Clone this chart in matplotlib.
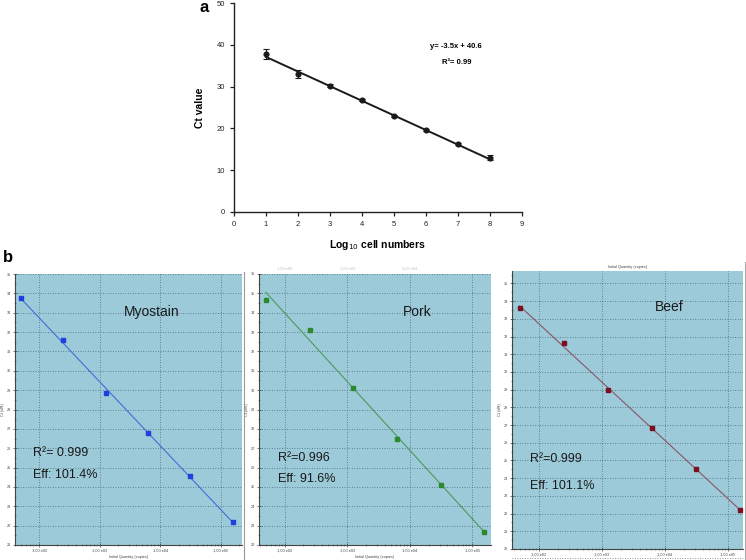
import numpy as np
import matplotlib
matplotlib.use("Agg")
from matplotlib import pyplot as plt
from matplotlib.ticker import LogLocator, FixedLocator, NullFormatter, MultipleLocator

plt.rcParams['font.family'] = ['Liberation Sans', 'DejaVu Sans']

# panel a data
log_cells = [1, 2, 3, 4, 5, 6, 7, 8]
ct_mean = [37.8, 33.0, 30.2, 26.8, 23.0, 19.7, 16.2, 13.0]
ct_err = [1.2, 0.9, 0.4, 0.25, 0.3, 0.25, 0.25, 0.6]
fit_slope = -3.5
fit_intercept = 40.6

# panel b data (5-fold dilution series)
quantity = [50, 250, 1250, 6250, 31250, 156250]
ct_myostain = [33.75, 31.58, 28.85, 26.78, 24.58, 22.2]
ct_pork = [34.68, 33.12, 30.12, 27.47, 25.09, 22.69]
ct_beef = [33.63, 31.65, 28.97, 26.82, 24.51, 22.22]

names = ["Myostain", "Pork", "Beef"]
r2_text = ["R\u00b2= 0.999", "R\u00b2=0.996", "R\u00b2=0.999"]
eff_text = ["Eff: 101.4%", "Eff: 91.6%", "Eff: 101.1%"]
qty_ticks = [1e2, 1e3, 1e4, 1e5]
qty_labels = ["1,00 e02", "1,00 e03", "1,00 e04", "1,00 e05"]

W, H = 746, 560
fig = plt.figure(figsize=(W / 100, H / 100), dpi=100)

def box(l, t, r, b):
    return [l / W, 1 - b / H, (r - l) / W, (b - t) / H]

# ---- panel a ----
ax = fig.add_axes(box(234, 3, 522, 212))
ax.errorbar(log_cells, ct_mean, yerr=ct_err, fmt='o', color='#1a1a1a', ms=3.4,
            elinewidth=0.8, capsize=2.2, capthick=0.8, zorder=3)
xl = np.array([log_cells[0], log_cells[-1]])
ax.plot(xl, fit_slope * xl + fit_intercept, color='#1a1a1a', lw=1.4)
ax.set_xlim(0, 9)
ax.set_ylim(0, 50)
ax.set_xticks(range(0, 10))
ax.set_yticks(range(0, 60, 10))
for s in ['top', 'right']:
    ax.spines[s].set_visible(False)
for s in ['left', 'bottom']:
    ax.spines[s].set_linewidth(1.0)
    ax.spines[s].set_color('#222222')
ax.tick_params(direction='out', length=3, width=0.9, labelsize=5.5, colors='#222222', pad=3.5)
ax.set_ylabel("Ct value", fontsize=7.5, fontweight='bold', labelpad=8)
ax.set_xlabel("Log$_{10}$ cell numbers", fontsize=7.5, fontweight='bold', labelpad=7)
ax.text(0.772, 0.785, "y= -3.5x + 40.6", transform=ax.transAxes, fontsize=5.5,
        fontweight='bold', ha='center')
ax.text(0.772, 0.71, "R\u00b2= 0.99", transform=ax.transAxes, fontsize=5.5,
        fontweight='bold', ha='center')
fig.text(199 / W, 1 - 8 / H, "a", fontsize=12, fontweight='bold', va='center')
fig.text(3 / W, 1 - 258 / H, "b", fontsize=12, fontweight='bold', va='center')

# ---- panel b ----
series = [ct_myostain, ct_pork, ct_beef]
boxes = [(15, 274, 242, 545), (259, 274, 491, 545), (512, 271, 743, 549)]
xlims = [(10 ** 1.60, 10 ** 5.35), (10 ** 1.59, 10 ** 5.30), (10 ** 1.578, 10 ** 5.24)]
ylims = [(21, 35), (22, 36), (20, 35.7)]
pt_colors = ['#1f3fe0', '#2b8a2b', '#7a0f22']
ln_colors = ['#3f6fd8', '#4c9a5c', '#8a5566']
name_pos = [(0.6, 0.86), (0.68, 0.86), (0.68, 0.87)]
stat_pos = [(0.08, 0.34, 0.26), (0.08, 0.32, 0.245), (0.08, 0.325, 0.228)]

for i in range(3):
    bx = fig.add_axes(box(*boxes[i]))
    bx.set_facecolor('#9ccad9')
    lq = np.log10(quantity)
    slope, icpt = np.polyfit(lq, series[i], 1)
    ends = np.array([lq[0], lq[-1]])
    bx.plot(10 ** ends, slope * ends + icpt, color=ln_colors[i], lw=0.8, zorder=2)
    bx.plot(quantity, series[i], 's', color=pt_colors[i], ms=3, zorder=3)
    bx.set_xscale('log')
    bx.set_xlim(*xlims[i])
    bx.set_ylim(*ylims[i])
    bx.xaxis.set_major_locator(FixedLocator(qty_ticks))
    bx.set_xticklabels(qty_labels)
    bx.xaxis.set_minor_locator(LogLocator(base=10, subs=np.arange(2, 10)))
    bx.xaxis.set_minor_formatter(NullFormatter())
    bx.yaxis.set_major_locator(MultipleLocator(1))
    bx.yaxis.set_minor_locator(MultipleLocator(0.5))
    bx.grid(True, which='major', linestyle=(0, (1, 2)), color='#4a6a78', lw=0.6)
    for s in ['top', 'right']:
        bx.spines[s].set_visible(False)
    for s in ['left', 'bottom']:
        bx.spines[s].set_color('#444444')
        bx.spines[s].set_linewidth(0.8)
    bx.tick_params(which='major', direction='inout', length=3, width=0.5,
                   labelsize=2.8, colors='#444444', pad=1)
    bx.tick_params(which='minor', direction='inout', length=1.5, width=0.4, colors='#444444')
    bx.text(*name_pos[i], names[i], transform=bx.transAxes, fontsize=10,
            ha='center', va='center', color='#1a1a1a')
    bx.text(stat_pos[i][0], stat_pos[i][1], r2_text[i], transform=bx.transAxes,
            fontsize=9, va='center', color='#1a1a1a')
    bx.text(stat_pos[i][0], stat_pos[i][2], eff_text[i], transform=bx.transAxes,
            fontsize=9, va='center', color='#1a1a1a')
    bx.set_ylabel("Ct (dR)", fontsize=2.8, color='#444444', labelpad=1.5)
    if i < 2:
        bx.set_xlabel("Initial Quantity (copies)", fontsize=2.8, color='#444444', labelpad=1.5)
    else:
        fig.text((boxes[i][0] + boxes[i][2]) / 2 / W, 1 - 267 / H, "Initial Quantity (copies)",
                 fontsize=2.8, color='#444444', ha='center', va='center')

# faint tick labels cropped from a panel above pork
for xq, lab in zip(qty_ticks[:3], qty_labels[:3]):
    pos = boxes[1][0] + (np.log10(xq) - 1.59) / (5.30 - 1.59) * (boxes[1][2] - boxes[1][0])
    fig.text(pos / W, 1 - 269 / H, lab, fontsize=2.8, color='#bbbbbb', ha='center', va='center')

# separator lines between screenshots
fig.add_artist(plt.Line2D([244 / W, 244 / W], [1 - 272 / H, 0], color='#999999', lw=0.8))
fig.add_artist(plt.Line2D([745 / W, 745 / W], [1 - 262 / H, 0], color='#aaaaaa', lw=0.8))
fig.add_artist(plt.Line2D([512 / W, 743 / W], [1 - 558 / H, 1 - 558 / H], color='#5a7a88',
                          lw=0.6, linestyle=(0, (1, 2))))

fig.savefig("out.png", dpi=100)
